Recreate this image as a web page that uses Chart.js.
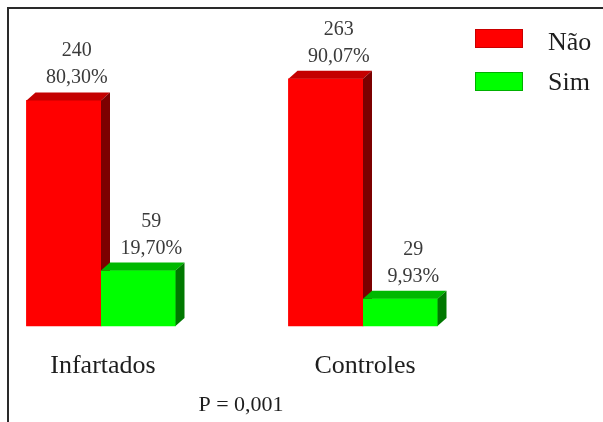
<!DOCTYPE html>
<html>
<head>
<meta charset="utf-8">
<script src="https://cdn.jsdelivr.net/npm/chart.js@4.4.0/dist/chart.umd.min.js"></script>
<style>
  html, body { margin: 0; padding: 0; background: #ffffff; }
  #wrap { width: 603px; height: 422px; position: relative; }
</style>
</head>
<body>
<div id="wrap"><canvas id="c" width="603" height="422"></canvas></div>
<script>
// Groups, series and the values shown above each bar
const categories = ['Infartados', 'Controles'];
const seriesNames = ['Não', 'Sim'];
const naoCounts = [240, 263];
const simCounts = [59, 29];
const naoPercents = [80.30, 90.07];
const simPercents = [19.70, 9.93];
const pValueText = 'P = 0,001';

const SERIF = '"Liberation Serif", "Times New Roman", Times, serif';
const DEPTH_X = 9;   // 3D depth offsets of the bars
const DEPTH_Y = 8;

const fmtPct = v => v.toFixed(2).replace('.', ',') + '%';

// Extruded bars: each series is painted front, top and side, left series first,
// so the right-hand bar of a group hides the side of its neighbour.
const barDepth = {
  id: 'barDepth',
  afterDatasetsDraw(chart) {
    const ctx = chart.ctx;
    ctx.save();
    chart.data.datasets.forEach((ds, di) => {
      const meta = chart.getDatasetMeta(di);
      meta.data.forEach(el => {
        const { x, y, base, width } = el.getProps(['x', 'y', 'base', 'width'], true);
        const l = x - width / 2, r = x + width / 2;
        // front face
        ctx.fillStyle = ds.backgroundColor;
        ctx.fillRect(l, y, width, base - y);
        // top face
        ctx.fillStyle = ds.topColor;
        ctx.beginPath();
        ctx.moveTo(l, y);
        ctx.lineTo(l + DEPTH_X, y - DEPTH_Y);
        ctx.lineTo(r + DEPTH_X, y - DEPTH_Y);
        ctx.lineTo(r, y);
        ctx.closePath();
        ctx.fill();
        // side face
        ctx.fillStyle = ds.sideColor;
        ctx.beginPath();
        ctx.moveTo(r, y);
        ctx.lineTo(r + DEPTH_X, y - DEPTH_Y);
        ctx.lineTo(r + DEPTH_X, base - DEPTH_Y);
        ctx.lineTo(r, base);
        ctx.closePath();
        ctx.fill();
      });
    });
    ctx.restore();
  }
};

// Frame, value labels, category names, legend and p-value
const annotations = {
  id: 'annotations',
  beforeDraw(chart) {
    const ctx = chart.ctx;
    ctx.save();
    ctx.fillStyle = '#ffffff';
    ctx.fillRect(0, 0, chart.width, chart.height);
    ctx.fillStyle = '#2a2a2a';
    ctx.fillRect(7, 7, chart.width - 7, 2);
    ctx.fillRect(7, 7, 2, chart.height - 7);
    ctx.restore();
  },
  afterDraw(chart) {
    const ctx = chart.ctx;
    ctx.save();
    ctx.textAlign = 'center';
    ctx.textBaseline = 'alphabetic';

    // count and percentage above every bar
    ctx.font = '20px ' + SERIF;
    ctx.fillStyle = '#3a3a3a';
    chart.data.datasets.forEach((ds, di) => {
      const meta = chart.getDatasetMeta(di);
      meta.data.forEach((el, i) => {
        const { x, y } = el.getProps(['x', 'y'], true);
        const cx = x + 13;
        ctx.fillText(String(ds.data[i]), cx, y - 44);
        ctx.fillText(fmtPct(ds.percents[i]), cx, y - 17);
      });
    });

    // category names under the groups
    const xs = chart.scales.x;
    ctx.font = '26px ' + SERIF;
    ctx.fillStyle = '#1e1e1e';
    categories.forEach((c, i) => {
      ctx.fillText(c, xs.getPixelForValue(i) + 2, 373);
    });

    // p-value
    ctx.font = '22px ' + SERIF;
    ctx.fillText(pValueText, 241, 411);

    // legend
    ctx.textAlign = 'left';
    ctx.font = '26px ' + SERIF;
    const rows = [{ top: 29, base: 50 }, { top: 72, base: 90 }];
    chart.data.datasets.forEach((ds, di) => {
      const r = rows[di];
      ctx.fillStyle = ds.backgroundColor;
      ctx.fillRect(475, r.top, 48, 19);
      ctx.strokeStyle = ds.edgeColor;
      ctx.lineWidth = 1;
      ctx.strokeRect(475.5, r.top + 0.5, 47, 18);
      ctx.fillStyle = '#1e1e1e';
      ctx.fillText(ds.label, 548, r.base);
    });
    ctx.restore();
  }
};

new Chart(document.getElementById('c'), {
  type: 'bar',
  data: {
    labels: categories,
    datasets: [
      {
        label: seriesNames[0],
        data: naoCounts,
        percents: naoPercents,
        backgroundColor: '#ff0000',
        topColor: '#c40000',
        sideColor: '#7c0000',
        edgeColor: '#c80000',
        barThickness: 74.5,
        borderWidth: 0,
        clip: false
      },
      {
        label: seriesNames[1],
        data: simCounts,
        percents: simPercents,
        backgroundColor: '#00ff00',
        topColor: '#00b800',
        sideColor: '#007800',
        edgeColor: '#00b000',
        barThickness: 74.5,
        borderWidth: 0,
        clip: false
      }
    ]
  },
  options: {
    responsive: false,
    animation: false,
    devicePixelRatio: 1,
    layout: { padding: { left: 101, right: 240, top: 44, bottom: 96 } },
    plugins: { legend: { display: false }, tooltip: { enabled: false }, title: { display: false } },
    scales: {
      x: { display: false, offset: false, grid: { display: false } },
      y: { display: false, min: 0, max: 300, grid: { display: false } }
    }
  },
  plugins: [barDepth, annotations]
});
</script>
</body>
</html>
